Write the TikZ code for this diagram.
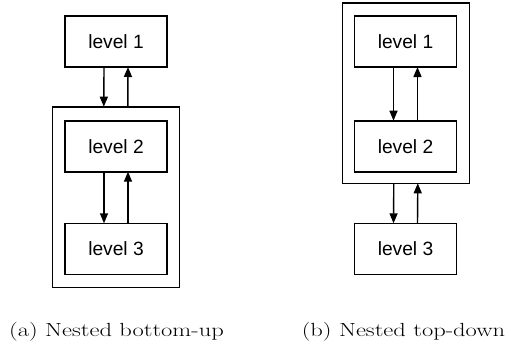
\documentclass[tikz,border=0pt]{standalone}
\usepackage{fontspec}
\newfontfamily\boxfont{Liberation Sans}
\newfontfamily\capfont[FakeStretch=1.29]{Latin Modern Roman}
\usetikzlibrary{arrows.meta}
\tikzset{
  levelbox/.style={draw, line width=1.6pt, minimum width=102pt, minimum height=51pt,
    inner sep=0pt, outer sep=0pt, font=\boxfont\fontsize{19.2}{22}\selectfont},
  nestbox/.style={draw, line width=1.6pt, inner sep=0pt, outer sep=0pt},
  flow/.style={line width=1.4pt, -{Triangle[length=10pt,width=8pt]}},
  captext/.style={font=\capfont\fontsize{19}{23}\selectfont, anchor=base}
}
\begin{document}
\begin{tikzpicture}[x=1pt,y=-1pt]
\useasboundingbox (0,0) rectangle (511,345);

% (a) levels 2 and 3 nested, level 1 outside
\node[nestbox, minimum width=127pt, minimum height=180.6pt] (outa) at (115.8,197) {};
\node[levelbox] (l1a) at (116,41.5) {level 1};
\node[levelbox] (l2a) at (116,146.2) {level 2};
\node[levelbox] (l3a) at (116,248.8) {level 3};
\draw[flow] ([xshift=-12pt]l1a.south) -- ([xshift=-12pt]outa.north);
\draw[flow] ([xshift=12pt]outa.north) -- ([xshift=12pt]l1a.south);
\draw[flow] ([xshift=-12pt]l2a.south) -- ([xshift=-12pt]l3a.north);
\draw[flow] ([xshift=12pt]l3a.north) -- ([xshift=12pt]l2a.south);
\node[captext] (capa) at (116.5,336.7) {(a) Nested bottom-up};

% (b) levels 1 and 2 nested, level 3 outside
\node[nestbox, minimum width=127pt, minimum height=180pt] (outb) at (405.8,93.3) {};
\node[levelbox] (l1b) at (405.5,41.5) {level 1};
\node[levelbox] (l2b) at (405.5,146.2) {level 2};
\node[levelbox] (l3b) at (405.5,248.8) {level 3};
\draw[flow] ([xshift=-12pt]l1b.south) -- ([xshift=-12pt]l2b.north);
\draw[flow] ([xshift=12pt]l2b.north) -- ([xshift=12pt]l1b.south);
\draw[flow] ([xshift=-12pt]outb.south) -- ([xshift=-12pt]l3b.north);
\draw[flow] ([xshift=12pt]l3b.north) -- ([xshift=12pt]outb.south);
\node[captext] (capb) at (403.5,336.7) {(b) Nested top-down};
\end{tikzpicture}
\end{document}
